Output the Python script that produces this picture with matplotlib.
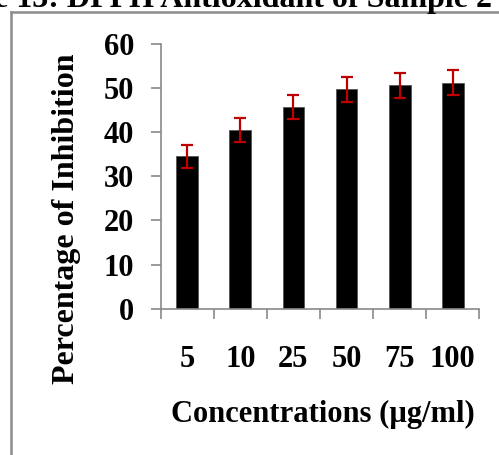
import matplotlib
matplotlib.use('Agg')
import matplotlib.pyplot as plt
from matplotlib.lines import Line2D

# DPPH radical scavenging at each concentration
concentrations = ['5', '10', '25', '50', '75', '100']
inhibition = [34.6, 40.5, 45.7, 49.7, 50.6, 51.2]
inhibition_sd = [2.6, 2.8, 2.8, 2.8, 2.8, 2.8]

plt.rcParams['font.family'] = ['Liberation Serif', 'DejaVu Serif']
plt.rcParams['font.weight'] = 'bold'

axis_grey = '#898989'

fig = plt.figure(figsize=(4.99, 4.55), dpi=100)
ax = fig.add_axes([0.322, 0.3215, 0.6385, 0.5818])

x = list(range(len(concentrations)))
ax.bar(x, inhibition, width=0.41, color='black', edgecolor='#555555', linewidth=0.6,
       yerr=inhibition_sd, error_kw=dict(ecolor='#c00000', elinewidth=1.6,
                                         capsize=4.5, capthick=1.6))

ax.set_xlim(-0.5, len(concentrations) - 0.5)
ax.set_ylim(0, 60)
ax.set_yticks(range(0, 61, 10))

# category boundaries carry the tick marks, labels sit in the middle
ax.set_xticks([i - 0.5 for i in range(len(concentrations) + 1)])
ax.set_xticklabels([])
ax.set_xticks(x, minor=True)
ax.set_xticklabels(concentrations, minor=True)
ax.tick_params(axis='x', which='major', direction='out', length=7, width=1.2, color=axis_grey)
ax.tick_params(axis='x', which='minor', length=0, pad=26, labelsize=22)
ax.tick_params(axis='y', direction='out', length=7, width=1.2, color=axis_grey,
               pad=12, labelsize=22)

for side in ['top', 'right']:
    ax.spines[side].set_visible(False)
for side in ['left', 'bottom']:
    ax.spines[side].set_color(axis_grey)
    ax.spines[side].set_linewidth(1.2)

ax.set_xlabel('Concentrations (µg/ml)', fontsize=22, fontweight='bold')
ax.xaxis.set_label_coords(0.51, -0.345)
ax.set_ylabel('Percentage of Inhibition', fontsize=23, fontweight='bold')
ax.yaxis.set_label_coords(-0.25, 0.341)

# frame of the chart area and the caption above it
fig.add_artist(Line2D([11 / 499, 11 / 499], [0, 1 - 12 / 455], transform=fig.transFigure,
                      color='#8c8c8c', linewidth=1.8))
fig.add_artist(Line2D([11 / 499, 1], [1 - 12 / 455, 1 - 12 / 455], transform=fig.transFigure,
                      color='#8c8c8c', linewidth=1.8))
fig.text(492 / 499, 1 - 7 / 455, 'Figure 13: DPPH Antioxidant of Sample 2',
         ha='right', va='baseline', fontsize=23, fontweight='bold')

fig.savefig('out.png', dpi=100)
